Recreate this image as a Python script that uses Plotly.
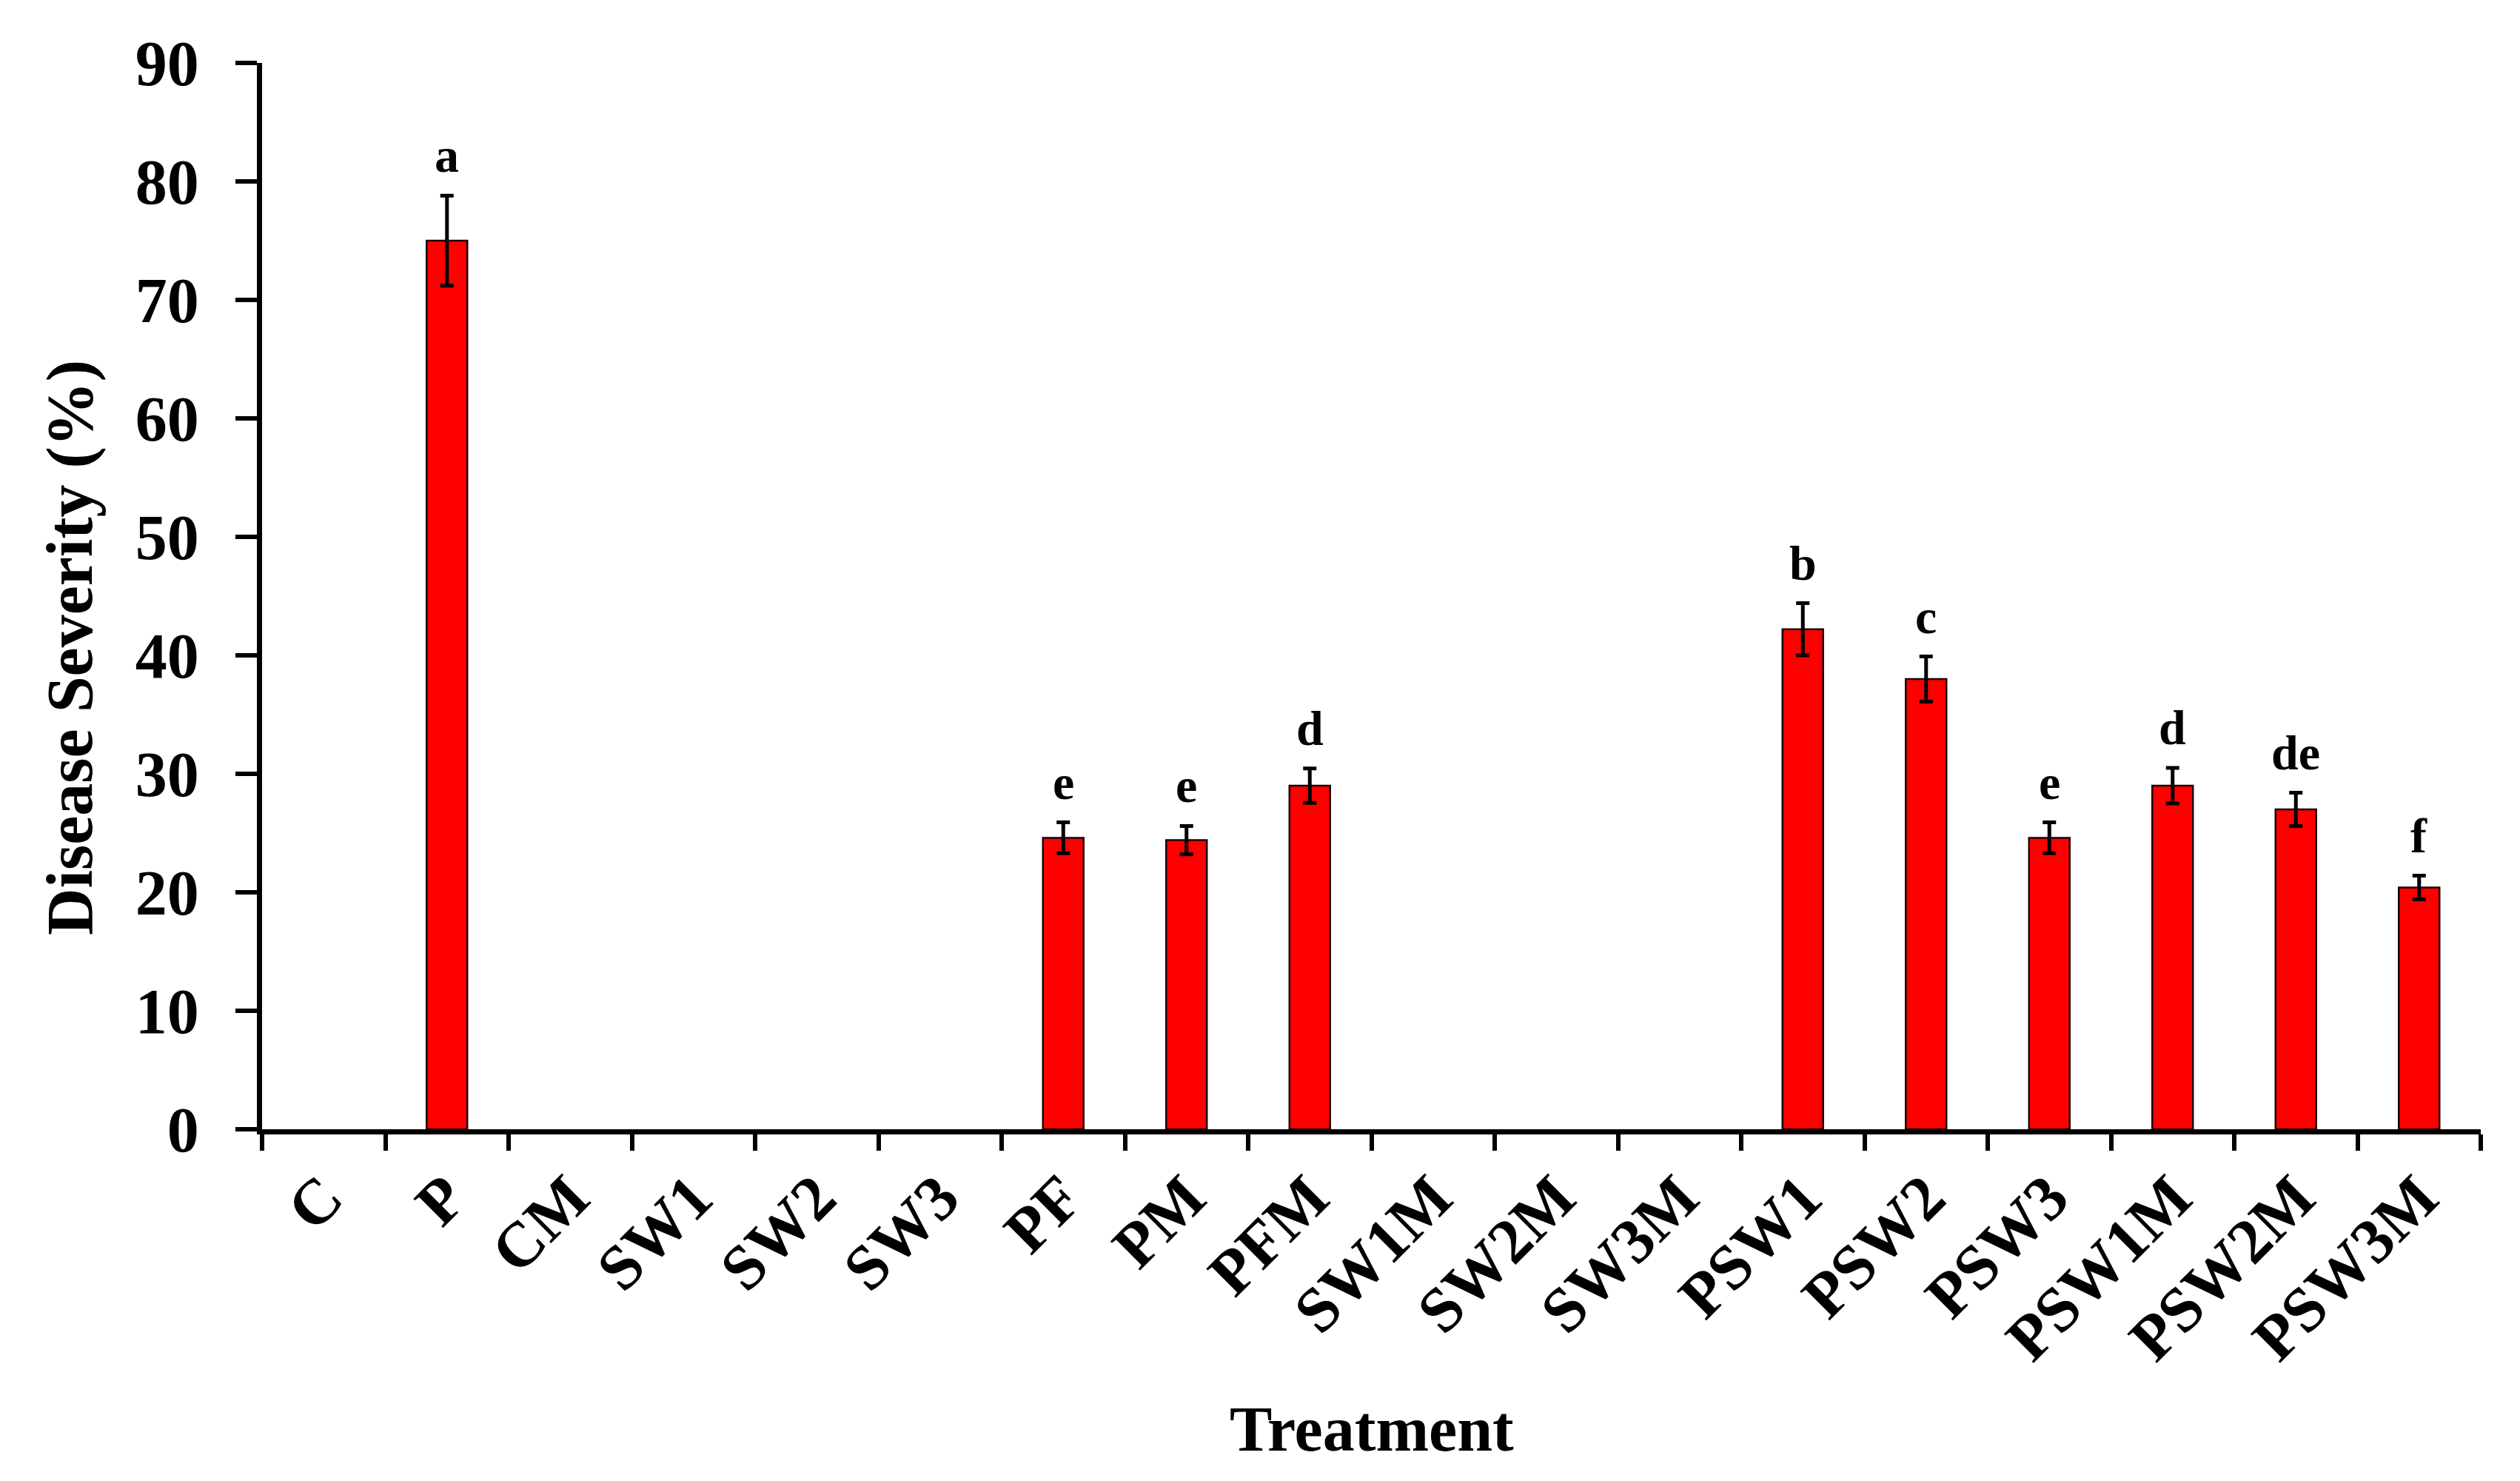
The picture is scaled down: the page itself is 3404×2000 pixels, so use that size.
import numpy as np
import plotly.graph_objects as go

treatments = ["C", "P", "CM", "SW1", "SW2", "SW3", "PF", "PM", "PFM",
              "SW1M", "SW2M", "SW3M", "PSW1", "PSW2", "PSW3", "PSW1M", "PSW2M", "PSW3M"]
severity = [0, 75.0, 0, 0, 0, 0, 24.6, 24.4, 29.0,
            0, 0, 0, 42.2, 38.0, 24.6, 29.0, 27.0, 20.4]
errors = [None, 3.8, None, None, None, None, 1.3, 1.2, 1.45,
          None, None, None, 2.2, 1.9, 1.3, 1.5, 1.4, 1.0]
letters = ["", "a", "", "", "", "", "e", "e", "d",
           "", "", "", "b", "c", "e", "d", "de", "f"]

FONT = "Liberation Serif"

outline_w = [2.5 if v > 0 else 0 for v in severity]
err_arr = np.array([np.nan if e is None else e for e in errors], dtype=float)

fig = go.Figure()
fig.add_trace(go.Bar(
    x=treatments, y=severity, width=0.33,
    marker=dict(color="#FF0000", line=dict(color="#1a0000", width=outline_w)),
    error_y=dict(type="data", array=err_arr, visible=True,
                 color="black", thickness=5, width=9),
    showlegend=False,
))

for t, v, e, lab in zip(treatments, severity, errors, letters):
    if lab:
        fig.add_annotation(x=t, y=v + (e or 0), text=lab, showarrow=False,
                           xanchor="center", yanchor="bottom", yshift=16,
                           font=dict(family=FONT, size=66, color="black", weight="bold"))

# axis titles
fig.add_annotation(xref="paper", yref="paper", x=0.5, y=-0.316,
                   text="Treatment", showarrow=False, xanchor="center", yanchor="bottom",
                   font=dict(family=FONT, size=86, color="black", weight="bold"))
fig.add_annotation(xref="paper", yref="paper", x=-0.0868, y=0.452,
                   text="Disease Severity (%)", showarrow=False, textangle=-90,
                   xanchor="center", yanchor="middle",
                   font=dict(family=FONT, size=88, color="black", weight="bold"))

fig.update_layout(
    width=3404, height=2000,
    margin=dict(l=346, r=61, t=77, b=483),
    plot_bgcolor="white", paper_bgcolor="white",
    font=dict(family=FONT, color="black"),
)
fig.update_xaxes(
    type="category", showline=True, linecolor="black", linewidth=7,
    ticks="outside", tickson="boundaries", ticklen=22, tickwidth=6, tickcolor="black",
    tickangle=-45, showgrid=False, zeroline=False,
    tickfont=dict(family=FONT, size=86, color="black", weight="bold"),
)
fig.update_yaxes(
    range=[0, 90], dtick=10, showline=True, linecolor="black", linewidth=7,
    ticks="outside", ticklen=29, tickwidth=6, tickcolor="black",
    showgrid=False, zeroline=False, ticklabelstandoff=32,
    tickfont=dict(family=FONT, size=86, color="black", weight="bold"),
)

fig.write_html("out.html")
